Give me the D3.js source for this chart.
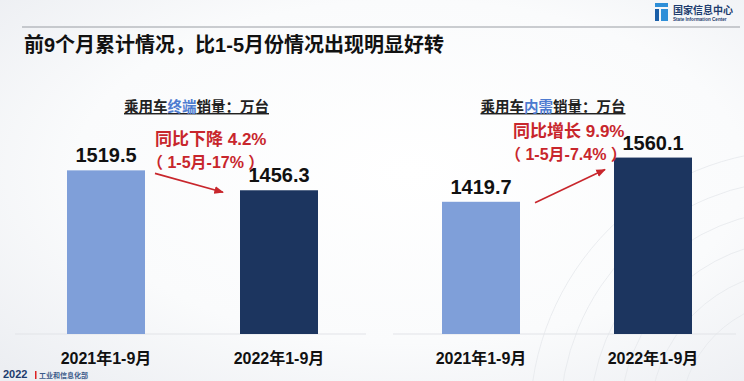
<!DOCTYPE html>
<html>
<head>
<meta charset="utf-8">
<script src="https://cdn.jsdelivr.net/npm/d3@7"></script>
<style>
  html, body { margin: 0; padding: 0; background: #fff; }
  svg { display: block; }
  text { font-family: "Liberation Sans", "Noto Sans CJK SC", sans-serif; font-weight: bold; }
</style>
</head>
<body>
<div id="chart"></div>
<script>
// données
const categories = ["2021年1-9月", "2022年1-9月"];
const terminalSales = [1519.5, 1456.3];   // 乘用车终端销量
const domesticSales = [1419.7, 1560.1];   // 乘用车内需销量
const panelTitles = [["乘用车", "终端", "销量：万台"], ["乘用车", "内需", "销量：万台"]];
const noteMain = ["同比下降 4.2%", "同比增长 9.9%"];
const noteSub = ["（ 1-5月-17% ）", "（ 1-5月-7.4% ）"];
const pageTitle = "前9个月累计情况，比1-5月份情况出现明显好转";

const W = 744, H = 381;
const svg = d3.select("#chart").append("svg").attr("width", W).attr("height", H);

// fond
const defs = svg.append("defs");
const bg = defs.append("radialGradient").attr("id", "bg").attr("cx", "55%").attr("cy", "45%").attr("r", "75%");
bg.append("stop").attr("offset", "0%").attr("stop-color", "#ffffff");
bg.append("stop").attr("offset", "60%").attr("stop-color", "#fafbfc");
bg.append("stop").attr("offset", "100%").attr("stop-color", "#eceef2");
svg.append("rect").attr("width", W).attr("height", H).attr("fill", "url(#bg)");

// arcs décoratifs à droite
const arcs = svg.append("g").attr("fill", "none").attr("stroke", "#e6e8ec").attr("stroke-width", 0.8);
[120, 150, 180, 210, 240, 270].forEach(r => {
  arcs.append("circle").attr("cx", 800).attr("cy", 420).attr("r", r);
});

defs.append("marker").attr("id", "arrow").attr("viewBox", "0 0 10 10")
  .attr("refX", 9).attr("refY", 5).attr("markerWidth", 6).attr("markerHeight", 6)
  .attr("orient", "auto")
  .append("path").attr("d", "M0,1 L10,5 L0,9 Z").attr("fill", "#c8262c");

// en-tête
svg.append("line").attr("x1", 22).attr("x2", 740).attr("y1", 27).attr("y2", 27)
  .attr("stroke", "#9a9da3").attr("stroke-width", 1.2);
svg.append("text").attr("x", 24).attr("y", 52).attr("font-size", 20).attr("fill", "#111")
  .text(pageTitle);

// logo
const logo = svg.append("g");
logo.append("rect").attr("x", 655).attr("y", 3).attr("width", 13).attr("height", 4).attr("fill", "#2f8fd8");
logo.append("rect").attr("x", 655).attr("y", 9).attr("width", 4).attr("height", 12).attr("fill", "#1a5ea8");
logo.append("rect").attr("x", 661).attr("y", 9).attr("width", 7).attr("height", 12).attr("fill", "#2f8fd8");
logo.append("text").attr("x", 673).attr("y", 14).attr("font-size", 10).attr("fill", "#1d3c6e")
  .attr("font-family", "Noto Sans CJK SC").text("国家信息中心");
logo.append("text").attr("x", 673).attr("y", 20.5).attr("font-size", 4.6).attr("fill", "#1d3c6e")
  .text("State Information Center");

// bas de page
svg.append("text").attr("x", 3).attr("y", 378).attr("font-size", 11).attr("fill", "#1d3c6e")
  .text("2022");
svg.append("rect").attr("x", 35).attr("y", 371).attr("width", 1.5).attr("height", 8).attr("fill", "#d22");
svg.append("text").attr("x", 39).attr("y", 378).attr("font-size", 7).attr("font-weight", "normal")
  .attr("fill", "#3b5a8a").text("工业和信息化部");

// échelle commune
const y = d3.scaleLinear().domain([1000, 1600]).range([334, 145]);
const barW = 78;
const colors = ["#7f9fd9", "#1c355f"];

const panels = [
  { values: terminalSales, range: [106, 279], base: [15, 366] },
  { values: domesticSales, range: [481, 653], base: [393, 736] }
];

panels.forEach((p, i) => {
  const x = d3.scalePoint().domain(categories).range(p.range);
  const g = svg.append("g");

  // ligne de base
  g.append("line").attr("x1", p.base[0]).attr("x2", p.base[1])
    .attr("y1", y(1000)).attr("y2", y(1000))
    .attr("stroke", "#e2e4e8").attr("stroke-width", 1.2);

  // barres
  g.selectAll(".bar").data(p.values).enter().append("rect")
    .attr("x", (d, j) => x(categories[j]) - barW / 2)
    .attr("y", d => y(d))
    .attr("width", barW)
    .attr("height", d => y(1000) - y(d))
    .attr("fill", (d, j) => colors[j]);

  // valeurs
  g.selectAll(".val").data(p.values).enter().append("text")
    .attr("x", (d, j) => x(categories[j]))
    .attr("y", d => y(d) - 8)
    .attr("text-anchor", "middle").attr("font-size", 20).attr("fill", "#111")
    .text(d => d.toFixed(1));

  // catégories
  g.selectAll(".cat").data(categories).enter().append("text")
    .attr("x", d => x(d)).attr("y", 364)
    .attr("text-anchor", "middle").attr("font-size", 16).attr("fill", "#111")
    .text(d => d);

  // sous-titre souligné
  const cx = (p.range[0] + p.range[1]) / 2 + (i === 0 ? 4 : -14);
  const t = g.append("text").attr("x", cx).attr("y", 112).attr("text-anchor", "middle")
    .attr("font-size", 14.5).attr("fill", "#222").attr("text-decoration", "underline");
  panelTitles[i].forEach((s, k) => {
    t.append("tspan").attr("fill", k === 1 ? "#4d7bd0" : "#222").text(s);
  });

  // annotations
  const nx = i === 0 ? 155 : 513;
  const ny = i === 0 ? 145 : 137;
  g.append("text").attr("x", nx).attr("y", ny).attr("font-size", 17).attr("fill", "#c8262c")
    .text(noteMain[i]);
  g.append("text").attr("x", nx - 8).attr("y", ny + 23).attr("font-size", 16).attr("fill", "#c8262c")
    .text(noteSub[i]);

  // flèche
  const x0 = x(categories[0]) + barW / 2, x1 = x(categories[1]) - barW / 2;
  const ax1 = i === 0 ? x0 + 10 : x0 + 15;
  const ay1 = i === 0 ? y(p.values[0]) + 3 : y(p.values[0]) + 1;
  const ax2 = i === 0 ? x1 - 17 : x1 - 9;
  const ay2 = i === 0 ? y(p.values[1]) + 2 : y(p.values[1]) + 12;
  g.append("line").attr("x1", ax1).attr("y1", ay1).attr("x2", ax2).attr("y2", ay2)
    .attr("stroke", "#c8262c").attr("stroke-width", 1.6).attr("marker-end", "url(#arrow)");
});
</script>
</body>
</html>
